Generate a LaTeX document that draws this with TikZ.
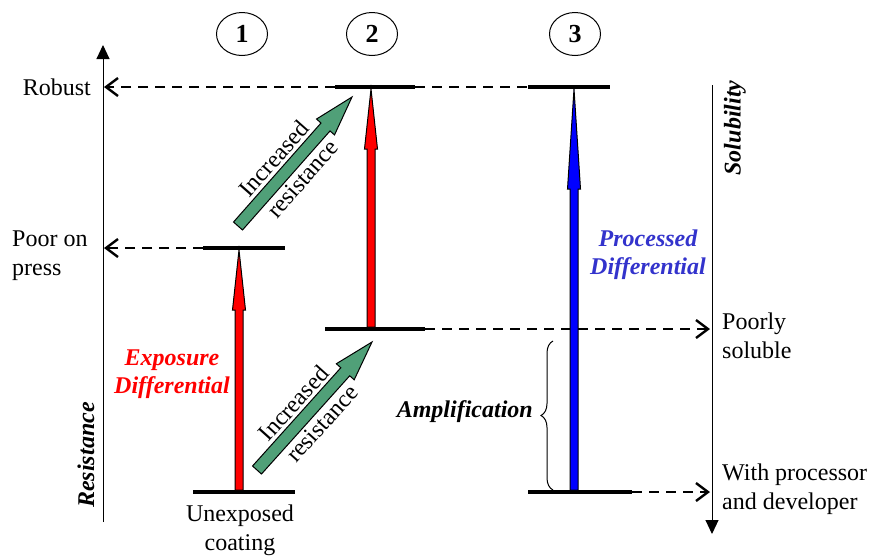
\documentclass[tikz,border=0pt]{standalone}
\usepackage{fontspec}
\setmainfont{Liberation Serif}
\usetikzlibrary{calc,arrows.meta,decorations.pathreplacing,shapes.geometric}

\definecolor{arrowgreen}{RGB}{80,160,120}
\definecolor{textblue}{RGB}{51,51,204}

% block arrow: [style]{from}{to}{shaft half}{head half}{head length}
\newcommand{\blockarrow}[6][]{%
  \coordinate (ba-h) at ($(#3)!#6!(#2)$);
  \draw[#1] ($(#2)!#4!90:(#3)$) -- ($(ba-h)!#4!90:(#3)$) -- ($(ba-h)!#5!90:(#3)$)
    -- (#3) -- ($(ba-h)!#5!-90:(#3)$) -- ($(ba-h)!#4!-90:(#3)$) -- ($(#2)!#4!-90:(#3)$) -- cycle;
}

\tikzset{
  level/.style={line width=4pt},
  guide/.style={line width=2.4pt, dash pattern=on 10pt off 7pt},
  opentip/.style={-{Straight Barb[length=12pt,width=18pt,line width=2.4pt]}},
  axis/.style={line width=1pt},
  lbl/.style={font=\fontsize{24}{29}\selectfont, align=left, inner sep=0pt},
  emph/.style={font=\fontsize{24}{28}\selectfont\bfseries\itshape, align=center, inner sep=0pt},
  stage/.style={draw, line width=1pt, ellipse, minimum width=51pt, minimum height=43pt,
    inner sep=0pt, font=\fontsize{26}{28}\selectfont\bfseries}
}

\begin{document}
\begin{tikzpicture}[x=1pt,y=-1pt]
  \useasboundingbox (0,0) rectangle (872,558);

  % stage numbers
  \node[stage] (n1) at (242,34) {1};
  \node[stage] (n2) at (372,34) {2};
  \node[stage] (n3) at (575,34) {3};

  % axes
  \coordinate (ra0) at (103,522);
  \coordinate (ra1) at (103,45);
  \coordinate (sa0) at (712,85);
  \coordinate (sa1) at (712,534);
  \draw[axis, -{Triangle[length=14pt,width=13pt]}] (ra0) -- (ra1);
  \draw[axis, -{Triangle[length=14pt,width=13pt]}] (sa0) -- (sa1);

  % energy levels
  \coordinate (a1) at (193,492); \coordinate (b1) at (295,492);
  \coordinate (c1) at (203,248); \coordinate (d1) at (285,248);
  \coordinate (a2) at (325,329); \coordinate (b2) at (425,329);
  \coordinate (c2) at (335,87);  \coordinate (d2) at (415,87);
  \coordinate (a3) at (528,492); \coordinate (b3) at (632,492);
  \coordinate (c3) at (528,87);  \coordinate (d3) at (610,87);
  \foreach \p/\q in {a1/b1,c1/d1,a2/b2,c2/d2,a3/b3,c3/d3}
    \draw[level] (\p) -- (\q);

  % dashed guides
  \coordinate (rob) at (104,87);
  \coordinate (poor) at (104,248);
  \coordinate (psol) at (710,329);
  \coordinate (wdev) at (710,492);
  \draw[guide] (d2) -- (c3);
  \draw[guide, opentip] (c2) -- (rob);
  \draw[guide, opentip] (c1) -- (poor);
  \draw[guide, opentip] (b2) -- (psol);
  \draw[guide, opentip] (b3) -- (wdev);

  % differential arrows
  \coordinate (e1s) at (239,490); \coordinate (e1e) at (239,250);
  \coordinate (e2s) at (371,327); \coordinate (e2e) at (371,89);
  \coordinate (p3s) at (574,490); \coordinate (p3e) at (574,89);
  \blockarrow[fill=red, line width=1pt]{e1s}{e1e}{4pt}{6.5pt}{60pt}
  \blockarrow[fill=red, line width=1pt]{e2s}{e2e}{4pt}{6.5pt}{60pt}
  \blockarrow[fill=blue, line width=1pt]{p3s}{p3e}{4pt}{6.5pt}{100pt}

  % increased resistance
  \coordinate (g1s) at (238,226); \coordinate (g1e) at (352,97);
  \coordinate (g2s) at (257,470); \coordinate (g2e) at (372,342);
  \blockarrow[fill=arrowgreen, line width=1pt]{g1s}{g1e}{6pt}{12pt}{40pt}
  \blockarrow[fill=arrowgreen, line width=1pt]{g2s}{g2e}{6pt}{12pt}{40pt}
  \foreach \g in {g1,g2}
    \path (\g s) -- (\g e)
      node[lbl, midway, sloped, above=9pt, xshift=-12pt] {Increased}
      node[lbl, midway, sloped, below=9pt, xshift=-8pt] {resistance};

  % amplification brace
  \coordinate (br0) at (553,490);
  \coordinate (br1) at (553,341);
  \draw[line width=1pt, decorate, decoration={brace, amplitude=12pt}] (br0) -- (br1);
  \node[emph, anchor=east] (amp) at (533,412) {Amplification};

  % labels
  \node[lbl, anchor=east] (robust) at (91,87) {Robust};
  \node[lbl, anchor=west] (poorpress) at (12,256) {Poor on\\press};
  \node[lbl, align=center] (unexp) at (240,530) {Unexposed\\coating};
  \node[lbl, anchor=west] (poorly) at (722,336) {Poorly\\soluble};
  \node[lbl, anchor=west] (withdev) at (722,489) {With processor\\and developer};
  \node[emph, rotate=90] (resist) at (86,455) {Resistance};
  \node[emph, rotate=90] (solub) at (735,128) {Solubility};
  \node[emph, text=red] (expo) at (172,374) {Exposure\\Differential};
  \node[emph, text=textblue] (proc) at (648,255) {Processed\\Differential};
\end{tikzpicture}
\end{document}
